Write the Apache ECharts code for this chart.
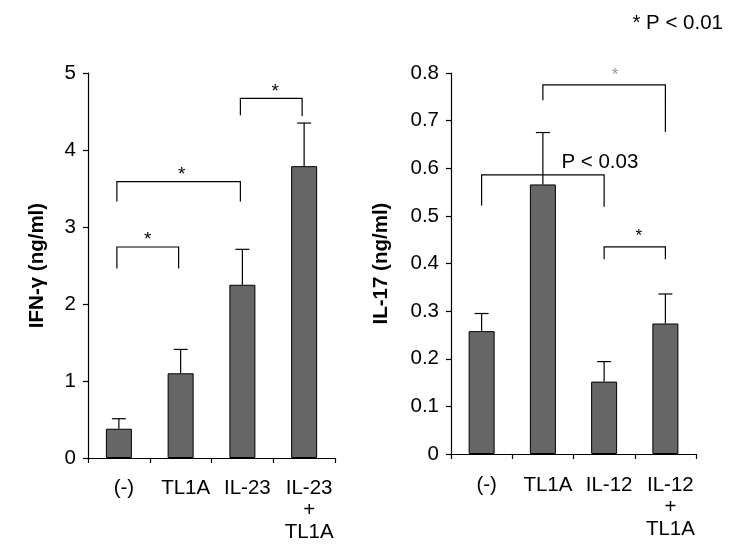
<!DOCTYPE html>
<html>
<head>
<meta charset="utf-8">
<script src="https://cdn.jsdelivr.net/npm/echarts@6/dist/echarts.min.js"></script>
<style>
html,body{margin:0;padding:0;background:#fff;}
#chart{width:750px;height:559px;}
</style>
</head>
<body>
<div id="chart"></div>
<script>
// ---- data ----
var catsLeft = ['(-)', 'TL1A', 'IL-23', 'IL-23\n+\nTL1A'];
var ifnMean = [0.38, 1.10, 2.25, 3.79];
var ifnErrTop = [0.51, 1.41, 2.71, 4.35];
var ifnTicks = [0, 1, 2, 3, 4, 5];

var catsRight = ['(-)', 'TL1A', 'IL-12', 'IL-12\n+\nTL1A'];
var il17Mean = [0.258, 0.566, 0.152, 0.274];
var il17ErrTop = [0.295, 0.675, 0.194, 0.336];
var il17Ticks = [0, 0.1, 0.2, 0.3, 0.4, 0.5, 0.6, 0.7, 0.8];

// brackets: [fromIndex, toIndex, topValue, leftLegBottom, rightLegBottom, label]
var bracketsLeft = [
  [0, 1, 2.74, 2.46, 2.46, '*'],
  [0, 2, 3.59, 3.33, 3.33, '*'],
  [2, 3, 4.67, 4.45, 4.44, '*']
];
var bracketsRight = [
  [0, 2, 0.586, 0.522, 0.519, 'P < 0.03'],
  [1, 3, 0.775, 0.743, 0.676, '*'],
  [2, 3, 0.435, 0.409, 0.409, '*']
];
var noteText = '* P < 0.01';

// ---- styles (kept apart from data) ----
var FONT = 'Liberation Sans, Arial, sans-serif';
var FS = 20.5;
var labelStyleLeft = [
  {dx: -2, dy: -7, size: 19, color: '#000'},
  {dx: 1, dy: -7, size: 19, color: '#000'},
  {dx: 2, dy: -7, size: 19, color: '#000'}
];
var labelStyleRight = [
  {dx: 57, dy: -13, size: FS, color: '#000'},
  {dx: 11, dy: -10, size: 17, color: '#999'},
  {dx: 4, dy: -11, size: 17, color: '#000'}
];

function errRender(params, api) {
  var i = api.value(0);
  var p0 = api.coord([i, api.value(1)]);
  var p1 = api.coord([i, api.value(2)]);
  var half = 7;
  var ls = {stroke: '#000', lineWidth: 1.2};
  return {
    type: 'group',
    children: [
      {type: 'line', shape: {x1: p0[0], y1: p0[1], x2: p1[0], y2: p1[1]}, style: ls},
      {type: 'line', shape: {x1: p1[0] - half, y1: p1[1], x2: p1[0] + half, y2: p1[1]}, style: ls}
    ]
  };
}

function makeBracketRender(list, styles, legDx) {
  return function (params, api) {
    var b = list[params.dataIndex];
    var st = styles[params.dataIndex];
    var a0 = api.coord([b[0], b[2]]);
    var a1 = api.coord([b[1], b[2]]);
    var l0 = api.coord([b[0], b[3]]);
    var r0 = api.coord([b[1], b[4]]);
    var xL = a0[0] + legDx, xR = a1[0] + legDx, yT = a0[1];
    var ls = {stroke: '#000', lineWidth: 1.2, fill: null};
    return {
      type: 'group',
      children: [
        {type: 'polyline', shape: {points: [[xL, l0[1]], [xL, yT], [xR, yT], [xR, r0[1]]]}, style: ls},
        {type: 'text', style: {
          text: b[5], x: (a0[0] + a1[0]) / 2 + st.dx, y: yT + st.dy,
          align: 'center', verticalAlign: 'middle',
          fontSize: st.size, fontFamily: FONT, fill: st.color
        }}
      ]
    };
  };
}

function xAxisCfg(gi, cats, margin) {
  return {
    gridIndex: gi, type: 'category', data: cats,
    axisLine: {lineStyle: {color: '#000', width: 1.2}},
    axisTick: {show: true, length: 5, lineStyle: {color: '#000', width: 1.2}},
    axisLabel: {color: '#000', fontSize: FS, fontFamily: FONT, margin: margin, lineHeight: 22,
      padding: [0, 0, 0, 10], interval: 0},
    splitLine: {show: false}
  };
}
function yAxisCfg(gi, ticks, name, gap) {
  return {
    gridIndex: gi, type: 'value',
    min: ticks[0], max: ticks[ticks.length - 1], interval: ticks[1] - ticks[0],
    name: name, nameLocation: 'middle', nameGap: gap,
    nameTextStyle: {color: '#000', fontSize: FS, fontWeight: 'bold', fontFamily: FONT},
    axisLine: {show: true, lineStyle: {color: '#000', width: 1.2}},
    axisTick: {show: true, length: 5, lineStyle: {color: '#000', width: 1.2}},
    axisLabel: {color: '#000', fontSize: FS, fontFamily: FONT, margin: 12,
      formatter: function (v) { return String(Math.round(v * 10) / 10); }},
    splitLine: {show: false}
  };
}

var chart = echarts.init(document.getElementById('chart'), null, {renderer: 'canvas'});
chart.setOption({
  animation: false,
  backgroundColor: '#fff',
  title: {
    text: noteText, right: 22, top: 8,
    textStyle: {fontSize: FS, fontWeight: 'normal', color: '#000', fontFamily: FONT}
  },
  grid: [
    {left: 88, top: 73, width: 247, height: 385},
    {left: 451, top: 73, width: 245, height: 381}
  ],
  xAxis: [xAxisCfg(0, catsLeft, 19), xAxisCfg(1, catsRight, 20)],
  yAxis: [
    yAxisCfg(0, ifnTicks, 'IFN-\u03b3 (ng/ml)', 40),
    yAxisCfg(1, il17Ticks, 'IL-17 (ng/ml)', 59)
  ],
  series: [
    {type: 'bar', xAxisIndex: 0, yAxisIndex: 0, data: ifnMean, barWidth: 26,
      itemStyle: {color: '#666666', borderColor: '#000', borderWidth: 1}},
    {type: 'custom', xAxisIndex: 0, yAxisIndex: 0, renderItem: errRender,
      encode: {x: 0, y: [1, 2]},
      data: ifnMean.map(function (m, i) { return [i, m, ifnErrTop[i]]; }), z: 3},
    {type: 'custom', xAxisIndex: 0, yAxisIndex: 0,
      renderItem: makeBracketRender(bracketsLeft, labelStyleLeft, -2),
      encode: {x: 0, y: 1},
      data: bracketsLeft.map(function (b) { return [b[0], b[2]]; }), z: 4},

    {type: 'bar', xAxisIndex: 1, yAxisIndex: 1, data: il17Mean, barWidth: 26,
      itemStyle: {color: '#666666', borderColor: '#000', borderWidth: 1}},
    {type: 'custom', xAxisIndex: 1, yAxisIndex: 1, renderItem: errRender,
      encode: {x: 0, y: [1, 2]},
      data: il17Mean.map(function (m, i) { return [i, m, il17ErrTop[i]]; }), z: 3},
    {type: 'custom', xAxisIndex: 1, yAxisIndex: 1,
      renderItem: makeBracketRender(bracketsRight, labelStyleRight, 0),
      encode: {x: 0, y: 1},
      data: bracketsRight.map(function (b) { return [b[0], b[2]]; }), z: 4}
  ]
});
</script>
</body>
</html>
